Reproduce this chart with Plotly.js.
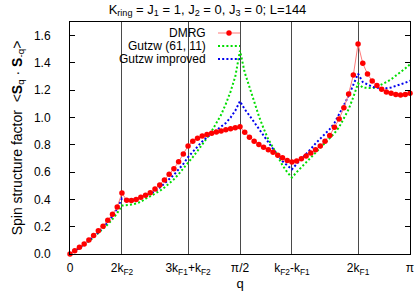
<!DOCTYPE html>
<html>
<head>
<meta charset="utf-8">
<script src="https://cdn.plot.ly/plotly-3.0.1.min.js"></script>
<style>html,body{margin:0;padding:0;background:#fff;}#chart{width:415px;height:294px;}</style>
</head>
<body>
<div id="chart"></div>
<script>
// momentum index n, q = n*pi/72 (L = 144)
const qIndex = Array.from({length: 73}, (_, i) => i);

const dmrg = [
  0.000, 0.024, 0.049, 0.073, 0.102, 0.136, 0.170, 0.204, 0.248, 0.292,
  0.345, 0.447, 0.394, 0.392, 0.400, 0.416, 0.430, 0.448, 0.476, 0.506,
  0.543, 0.584, 0.625, 0.676, 0.732, 0.792, 0.826, 0.848, 0.865, 0.875,
  0.885, 0.894, 0.902, 0.910, 0.917, 0.925, 0.932, 0.892, 0.856, 0.827,
  0.803, 0.783, 0.764, 0.745, 0.723, 0.706, 0.686, 0.674, 0.681, 0.698,
  0.718, 0.740, 0.764, 0.791, 0.827, 0.869, 0.929, 0.990, 1.071, 1.173,
  1.311, 1.538, 1.397, 1.319, 1.268, 1.234, 1.207, 1.187, 1.178, 1.168,
  1.165, 1.168, 1.178
];

const gutzw = [
  0.000, 0.022, 0.045, 0.068, 0.094, 0.122, 0.152, 0.182, 0.217, 0.255,
  0.300, 0.355, 0.357, 0.362, 0.370, 0.382, 0.405, 0.422, 0.440, 0.462,
  0.487, 0.515, 0.547, 0.585, 0.625, 0.665, 0.710, 0.755, 0.800, 0.850,
  0.900, 0.960, 1.020, 1.100, 1.190, 1.300, 1.490, 1.330, 1.220, 1.110,
  1.010, 0.920, 0.840, 0.780, 0.710, 0.650, 0.600, 0.560, 0.600, 0.635,
  0.670, 0.705, 0.740, 0.775, 0.810, 0.845, 0.885, 0.930, 0.990, 1.060,
  1.150, 1.250, 1.220, 1.215, 1.215, 1.225, 1.240, 1.260, 1.280, 1.305,
  1.330, 1.360, 1.390
];

const gutzwImproved = [
  0.000, 0.020, 0.045, 0.070, 0.098, 0.128, 0.160, 0.195, 0.235, 0.278,
  0.335, 0.408, 0.395, 0.395, 0.400, 0.410, 0.425, 0.440, 0.460, 0.485,
  0.515, 0.545, 0.580, 0.620, 0.660, 0.710, 0.750, 0.790, 0.825, 0.855,
  0.880, 0.905, 0.930, 0.960, 1.000, 1.050, 1.120, 1.060, 1.015, 0.965,
  0.920, 0.870, 0.820, 0.770, 0.725, 0.680, 0.650, 0.620, 0.660, 0.695,
  0.730, 0.770, 0.810, 0.845, 0.880, 0.915, 0.960, 1.020, 1.090, 1.160,
  1.240, 1.320, 1.260, 1.240, 1.225, 1.218, 1.215, 1.215, 1.220, 1.230,
  1.240, 1.255, 1.270
];

const seriesNames = ['DMRG', 'Gutzw (61, 11)', 'Gutzw improved'];
const xTickVals = [0, 11, 25, 36, 47, 61, 72];
const xTickText = ['0', '2k<sub>F2</sub>', '3k<sub>F1</sub>+k<sub>F2</sub>', 'π/2',
                   'k<sub>F2</sub>-k<sub>F1</sub>', '2k<sub>F1</sub>', 'π'];
const yTickVals = [0, 0.2, 0.4, 0.6, 0.8, 1.0, 1.2, 1.4, 1.6];
const yTickText = ['0.0', '0.2', '0.4', '0.6', '0.8', '1.0', '1.2', '1.4', '1.6'];

const RED = '#ff0000', RED_LINE = '#ff7a7a', GREEN = '#00dd00', BLUE = '#0000ee';
const FONT = 'Liberation Sans, Arial, sans-serif';
const DOTS = '2px,2.2px';

const traces = [
  {x: qIndex, y: gutzw, name: seriesNames[1], type: 'scatter', mode: 'lines',
   line: {color: GREEN, width: 2, dash: DOTS}, cliponaxis: false},
  {x: qIndex, y: gutzwImproved, name: seriesNames[2], type: 'scatter', mode: 'lines',
   line: {color: BLUE, width: 2, dash: DOTS}, cliponaxis: false},
  {x: qIndex, y: dmrg, name: seriesNames[0], type: 'scatter', mode: 'lines+markers',
   line: {color: RED_LINE, width: 1}, marker: {color: RED, size: 5.5},
   cliponaxis: false}
];

// gnuplot-style key: text right-aligned, sample to the right (pixel positions -> paper)
const PL = 70, PR = 410, PT = 22, PB = 254;
const px = v => (v - PL) / (PR - PL), py = v => (PB - v) / (PB - PT);
const keyTextX = 208, keyX0 = 218, keyX1 = 240, keyY = [33, 46, 59];
const annotations = seriesNames.map((s, i) => ({
  xref: 'paper', yref: 'paper', x: px(keyTextX), y: py(keyY[i]),
  xanchor: 'right', yanchor: 'middle', text: s, showarrow: false,
  font: {family: FONT, size: 12, color: '#000'}
}));
const keyColors = [RED_LINE, GREEN, BLUE];
const shapes = seriesNames.map((s, i) => ({
  type: 'line', xref: 'paper', yref: 'paper',
  x0: px(keyX0), x1: px(keyX1), y0: py(keyY[i]), y1: py(keyY[i]),
  line: {color: keyColors[i], width: i === 0 ? 1 : 2, dash: i === 0 ? 'solid' : DOTS}
}));
shapes.push({type: 'circle', xref: 'paper', yref: 'paper',
  x0: px(229 - 2.7), x1: px(229 + 2.7), y0: py(keyY[0] + 2.7), y1: py(keyY[0] - 2.7),
  fillcolor: RED, line: {color: RED, width: 0}});

const layout = {
  width: 415, height: 294,
  margin: {l: 70, r: 5, t: 22, b: 40, pad: 0},
  paper_bgcolor: '#fff', plot_bgcolor: '#fff',
  showlegend: false,
  font: {family: FONT, size: 12, color: '#000'},
  title: {text: 'K<sub>ring</sub> = J<sub>1</sub> = 1, J<sub>2</sub> = 0, J<sub>3</sub> = 0; L=144',
          font: {family: FONT, size: 13}, x: 0.5, xanchor: 'center', y: 0.985, yanchor: 'top'},
  xaxis: {
    range: [0, 72], tickmode: 'array', tickvals: xTickVals, ticktext: xTickText,
    showgrid: true, gridcolor: '#4a4a4a', gridwidth: 1, zeroline: false,
    showline: true, linecolor: '#000', linewidth: 1, mirror: true,
    ticks: '', tickfont: {family: FONT, size: 12}, ticklabelstandoff: 3,
    title: {text: 'q', font: {family: FONT, size: 13}, standoff: 2}
  },
  yaxis: {
    range: [0, 1.7], tickmode: 'array', tickvals: yTickVals, ticktext: yTickText,
    showgrid: false, zeroline: false,
    showline: true, linecolor: '#000', linewidth: 1, mirror: 'ticks',
    ticks: 'inside', ticklen: 5, tickcolor: '#000',
    tickfont: {family: FONT, size: 12}, ticklabelstandoff: 16,
    title: {text: 'Spin structure factor  <<b>S</b><sub>q</sub> · <b>S</b><sub>-q</sub>>',
            font: {family: FONT, size: 14}, standoff: 8}
  },
  annotations: annotations,
  shapes: shapes
};

Plotly.newPlot('chart', traces, layout, {staticPlot: true, displayModeBar: false});
</script>
</body>
</html>
